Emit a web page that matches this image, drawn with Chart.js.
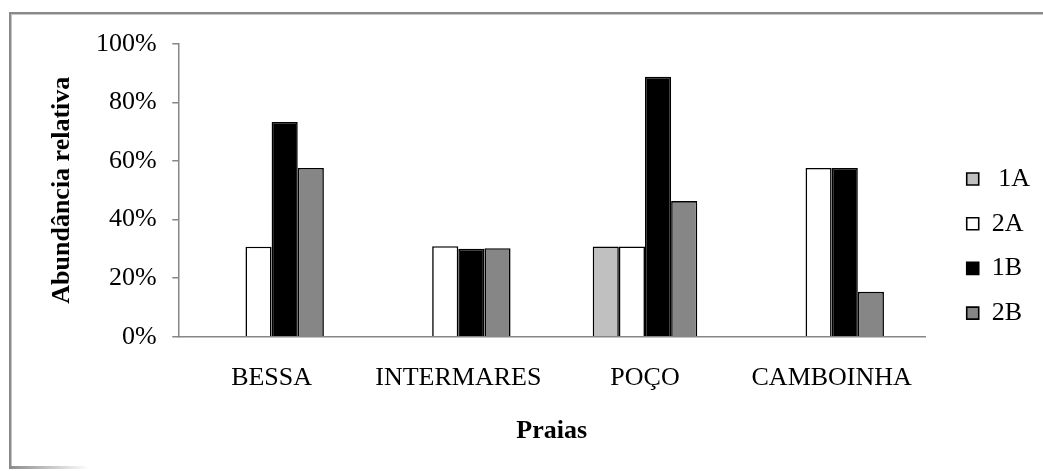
<!DOCTYPE html>
<html>
<head>
<meta charset="utf-8">
<script src="https://cdn.jsdelivr.net/npm/chart.js@4.4.1/dist/chart.umd.min.js"></script>
<style>
  html, body { margin: 0; padding: 0; background: #fff; }
  #wrap { position: relative; width: 1043px; height: 471px; overflow: hidden; }
  #frame {
    position: absolute; left: 9px; top: 12px; width: 1100px; height: 455px;
    border-top: 2px solid #8a8a8a; border-left: 2px solid #8a8a8a;
    box-shadow: inset 1px 1px 0 #c4c4c4;
  }
  #frameBottom {
    position: absolute; left: 9px; top: 466px; width: 80px; height: 3px;
    background: linear-gradient(to right, #8a8a8a, rgba(138,138,138,0));
  }
  canvas { position: absolute; left: 0; top: 0; }
</style>
</head>
<body>
<div id="wrap">
  <div id="frame"></div>
  <div id="frameBottom"></div>
  <canvas id="chart" width="1043" height="471"></canvas>
</div>
<script>
// Beaches (categories)
const praias = ['BESSA', 'INTERMARES', 'POÇO', 'CAMBOINHA'];

// Series labels
const seriesNames = [' 1A', '2A', '1B', '2B'];

// Relative abundance (%) per beach
const serie1A = [null, null, 30.8, null];
const serie2A = [30.7, 30.9, 30.8, 57.6];
const serie1B = [73.3, 30.0, 88.7, 57.6];
const serie2B = [57.6, 30.2, 46.3, 15.3];

// Y axis ticks
const yTickValues = [0, 20, 40, 60, 80, 100];
const yTickLabels = ['0%', '20%', '40%', '60%', '80%', '100%'];

const axisTitleY = 'Abundância relativa';
const axisTitleX = 'Praias';

const fills = ['#c0c0c0', '#ffffff', '#000000', '#868686'];
const seriesData = [serie1A, serie2A, serie1B, serie2B];

const FONT = "'Liberation Serif', 'Times New Roman', serif";
Chart.defaults.font.family = FONT;
Chart.defaults.font.size = 26;
Chart.defaults.color = '#000';

const axisGray = '#878787';

// Moves the legend column next to the plot after layout
const legendPlacement = {
  id: 'legendPlacement',
  afterLayout(chart) {
    const lg = chart.legend;
    if (!lg) return;
    const dx = chart.chartArea.right + 23 - lg.left;
    const dy = -11.3;
    lg.left += dx; lg.right += dx;
    lg.top += dy; lg.bottom += dy;
  }
};

new Chart(document.getElementById('chart'), {
  type: 'bar',
  data: {
    labels: praias,
    datasets: seriesData.map((d, i) => ({
      label: seriesNames[i],
      data: d,
      backgroundColor: fills[i],
      borderColor: '#000',
      borderWidth: 1.6,
      categoryPercentage: 0.56,
      barPercentage: 1.0
    }))
  },
  options: {
    responsive: false,
    animation: false,
    layout: { padding: { left: 46.4, top: 43.7, right: 26, bottom: 0 } },
    plugins: {
      tooltip: { enabled: false },
      legend: {
        position: 'right',
        labels: {
          boxWidth: 12,
          boxHeight: 12,
          padding: 18.7,
          font: { size: 26, family: FONT },
          color: '#000'
        }
      }
    },
    scales: {
      x: {
        grid: { display: true, drawOnChartArea: false, drawTicks: false },
        border: { display: true, color: axisGray, width: 1.5 },
        ticks: { padding: 26.3, font: { size: 26 }, color: '#000', maxRotation: 0 },
        title: {
          display: true,
          text: axisTitleX,
          font: { size: 26, weight: 'bold' },
          color: '#000',
          padding: { top: -5.1, bottom: 24.4 }
        }
      },
      y: {
        min: 0,
        max: 100,
        afterBuildTicks(scale) {
          scale.ticks = yTickValues.map(v => ({ value: v }));
        },
        grid: { display: true, drawOnChartArea: false, drawTicks: true, tickLength: 6, color: axisGray, lineWidth: 1.5 },
        border: { display: true, color: axisGray, width: 1.5 },
        ticks: {
          padding: 15.6,
          font: { size: 26 },
          color: '#000',
          callback: (v) => yTickLabels[yTickValues.indexOf(v)]
        },
        title: {
          display: true,
          text: axisTitleY,
          font: { size: 26, weight: 'bold' },
          color: '#000',
          padding: { top: 0, bottom: 2.8 }
        }
      }
    }
  },
  plugins: [legendPlacement]
});
</script>
</body>
</html>
